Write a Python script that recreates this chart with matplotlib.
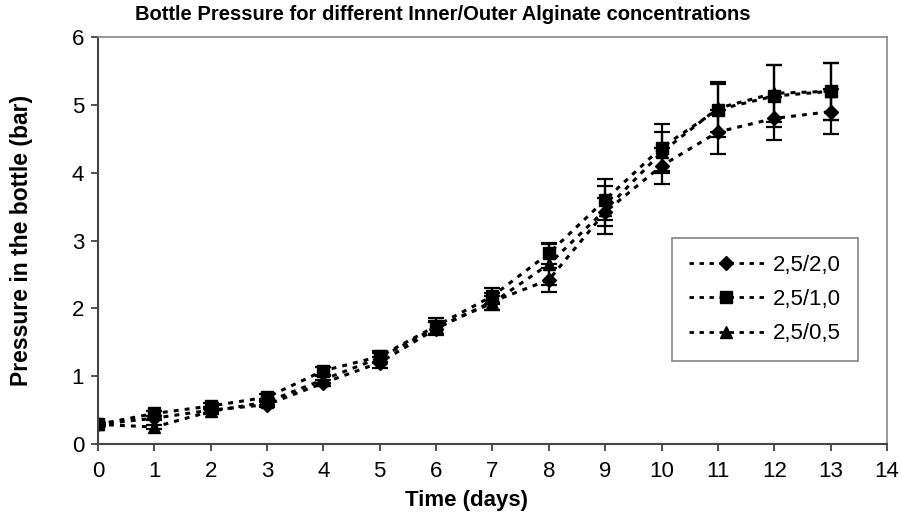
import matplotlib
matplotlib.use("Agg")
import matplotlib.pyplot as plt

days = list(range(14))
labels = ["2,5/2,0", "2,5/1,0", "2,5/0,5"]
diamond = [0.29, 0.38, 0.50, 0.58, 0.90, 1.20, 1.70, 2.10, 2.42, 3.42, 4.10, 4.60, 4.80, 4.90]
square = [0.29, 0.45, 0.56, 0.69, 1.08, 1.29, 1.74, 2.18, 2.81, 3.60, 4.37, 4.93, 5.13, 5.20]
triangle = [0.29, 0.25, 0.48, 0.62, 0.95, 1.27, 1.72, 2.08, 2.65, 3.45, 4.30, 4.95, 5.17, 5.20]
err_diamond = [0.02, 0.03, 0.04, 0.04, 0.05, 0.08, 0.10, 0.12, 0.18, 0.20, 0.27, 0.33, 0.32, 0.33]
err_square = [0.02, 0.03, 0.04, 0.05, 0.06, 0.08, 0.12, 0.12, 0.16, 0.30, 0.35, 0.40, 0.45, 0.42]
err_triangle = [0.02, 0.03, 0.04, 0.04, 0.05, 0.07, 0.10, 0.10, 0.30, 0.35, 0.30, 0.35, 0.42, 0.42]

plt.rcParams['font.family'] = ['Liberation Sans', 'DejaVu Sans']

fig = plt.figure(figsize=(9.02, 5.19), dpi=100)
ax = fig.add_axes([0.1086, 0.1445, 0.8747, 0.7842])

series = [(diamond, err_diamond, 'D', 7.5), (square, err_square, 's', 8), (triangle, err_triangle, '^', 9)]
for (vals, errs, mk, ms), lab in zip(series, labels):
    ax.errorbar(days, vals, yerr=errs, fmt='none', ecolor='black',
                elinewidth=1.6, capsize=6, capthick=1.6)
    ax.plot(days, vals, color='black', marker=mk, markersize=ms,
            linestyle=(0, (1.6, 2.0)), linewidth=2.2, label=lab)

ax.set_xlim(0, 14)
ax.set_ylim(0, 6)
ax.set_xticks(range(15))
ax.set_yticks(range(7))
ax.tick_params(axis='both', direction='out', length=5, width=1.2, labelsize=16,
               colors='#333333', labelcolor='black')
ax.tick_params(axis='x', pad=7)
ax.tick_params(axis='y', pad=5)
for side in ['left', 'bottom']:
    ax.spines[side].set_color('#444444')
    ax.spines[side].set_linewidth(1.5)
for side in ['top', 'right']:
    ax.spines[side].set_color('#888888')
    ax.spines[side].set_linewidth(1.2)

ax.set_xlabel('Time (days)', fontsize=16, fontweight='bold')
ax.xaxis.set_label_coords(0.4675, -0.1376)
ax.xaxis.label.set_va('center')
ax.set_ylabel('Pressure in the bottle (bar)', fontsize=16.5, fontweight='bold')
ax.yaxis.set_label_coords(-0.097, 0.5)
ax.yaxis.label.set_va('center')

fig.text(0.491, 0.972, 'Bottle Pressure for different Inner/Outer Alginate concentrations',
         fontsize=14.5, fontweight='bold', ha='center', va='center')

leg = ax.legend(loc='upper left', bbox_to_anchor=(0.7275, 0.506), fontsize=16,
                frameon=True, fancybox=False, edgecolor='#666666', handlelength=3.4,
                borderpad=0.75, labelspacing=0.6, handletextpad=0.4, borderaxespad=0)
leg.get_frame().set_linewidth(1.2)
for h in leg.legend_handles:
    h.set_linewidth(2.0)

fig.savefig('out.png', dpi=100)
